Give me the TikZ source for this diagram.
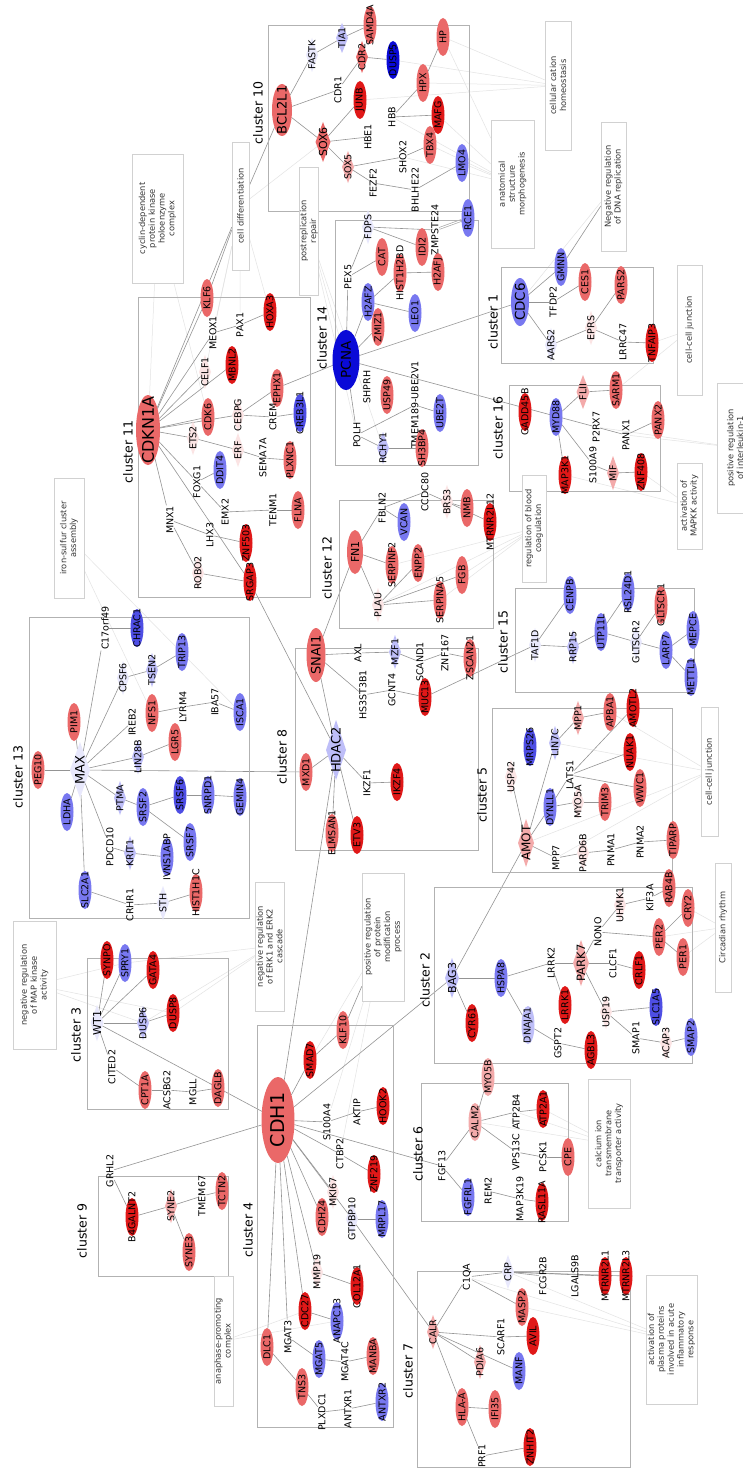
\documentclass[tikz,border=0pt]{standalone}
\usepackage{fontspec}
\setmainfont{DejaVu Sans}
\usetikzlibrary{shapes.geometric}
\pgfdeclarelayer{background}
\pgfsetlayers{background,main}

\definecolor{R3}{RGB}{224,24,24}
\definecolor{R2}{RGB}{234,104,104}
\definecolor{R1}{RGB}{243,170,170}
\definecolor{R0}{RGB}{251,228,228}
\definecolor{B3}{RGB}{10,10,215}
\definecolor{B2m}{RGB}{78,78,228}
\definecolor{B2}{RGB}{120,120,240}
\definecolor{B1}{RGB}{190,190,248}
\definecolor{B0}{RGB}{232,232,252}

\newcommand{\fsz}[1]{\fontsize{#1}{#1}\selectfont}
\newcommand{\genefont}{\fontsize{9.5}{10}\selectfont}
\newcommand{\gofont}{\fontsize{8.3}{9.8}\selectfont}
\newcommand{\clfont}{\fontsize{12.5}{13}\selectfont}
% coloured gene node: shape of fixed size, label may overflow it
\newcommand{\GN}[5][]{\node[#2,#1] (#3) at (#4) {\makebox[0pt]{#5}};}
% plain gene label
\newcommand{\TN}[3]{\node[T] (#1) at (#2) {#3};}

\tikzset{
  E/.style={ellipse, rotate=90, inner sep=0pt, outer sep=0pt,
            minimum width=38pt, minimum height=13pt, fill=#1, font=\genefont},
  D/.style={diamond, rotate=90, inner sep=0pt, outer sep=0pt,
            minimum width=34pt, minimum height=12pt, fill=#1, font=\genefont},
  T/.style={rectangle, rotate=90, inner sep=0.5pt, font=\genefont},
  go/.style={rectangle, rotate=90, draw=black!18, fill=white, align=center,
             font=\gofont, text=black!80, inner sep=0.5pt},
  clab/.style={rotate=90, font=\clfont, inner sep=0pt},
  cbox/.style={draw=black!30, line width=0.8pt},
  ed/.style={draw=black!42, line width=0.6pt},
  fe/.style={draw=black!11, line width=0.5pt},
}

\begin{document}
\begin{tikzpicture}[x=1pt,y=-1pt]
\useasboundingbox (0,0) rectangle (743,1469);
\clip (0,0) rectangle (743,1469);

% ---------- cluster frames ----------
\draw[cbox] (268,25) rectangle (469,211);   % 10
\draw[cbox] (335,220) rectangle (478,465);  % 14
\draw[cbox] (501,267) rectangle (653,363);  % 1
\draw[cbox] (138,297) rectangle (310,597);  % 11
\draw[cbox] (509,385) rectangle (660,491);  % 16
\draw[cbox] (339,500) rectangle (493,628);  % 12
\draw[cbox] (515,588) rectangle (694,692);  % 15
\draw[cbox] (29,617) rectangle (249,918);   % 13
\draw[cbox] (295,648) rectangle (478,850);  % 8
\draw[cbox] (492,708) rectangle (672,872);  % 5
\draw[cbox] (434,887) rectangle (692,1063); % 2
\draw[cbox] (87,958) rectangle (228,1109);  % 3
\draw[cbox] (98,1176) rectangle (228,1276); % 9
\draw[cbox] (257,1025) rectangle (393,1427);% 4
\draw[cbox] (421,1083) rectangle (568,1221);% 6
\draw[cbox] (417,1271) rectangle (630,1467);% 7

% ---------- cluster titles ----------
\node[clab] (t10) at (258,113) {cluster 10};
\node[clab] (t14) at (322,338) {cluster 14};
\node[clab] (t1)  at (493,322) {cluster 1};
\node[clab] (t11) at (128,452) {cluster 11};
\node[clab] (t16) at (498,428) {cluster 16};
\node[clab] (t12) at (327,568) {cluster 12};
\node[clab] (t15) at (503,642) {cluster 15};
\node[clab] (t13) at (18,777)  {cluster 13};
\node[clab] (t8)  at (282,757) {cluster 8};
\node[clab] (t5)  at (482,795) {cluster 5};
\node[clab] (t2)  at (425,980) {cluster 2};
\node[clab] (t3)  at (76,1035) {cluster 3};
\node[clab] (t9)  at (82,1231) {cluster 9};
\node[clab] (t4)  at (248,1230) {cluster 4};
\node[clab] (t6)  at (418,1154) {cluster 6};
\node[clab] (t7)  at (408,1371) {cluster 7};

% ---------- GO term boxes ----------
\node[go, minimum width=129pt, minimum height=51pt] (goCDK) at (157.5,218.5) {cyclin-dependent\\protein kinase\\holoenzyme\\complex};
\node[go, minimum width=128pt, minimum height=17pt] (goDiff) at (240.5,206) {cell differentiation};
\node[go, minimum width=128pt, minimum height=18pt] (goRep) at (309,231) {postreplication\\repair};
\node[go, minimum width=128pt, minimum height=43pt] (goMorph) at (512.5,184) {anatomical\\structure\\morphogenesis};
\node[go, minimum width=129pt, minimum height=26pt] (goCat) at (558,85.5) {cellular cation\\homeostasis};
\node[go, minimum width=129pt, minimum height=25pt] (goDNA) at (613.5,186.5) {Negative regulation\\of DNA replication};
\node[go, minimum width=130pt, minimum height=25pt] (goJunA) at (689.5,330) {cell-cell junction};
\node[go, minimum width=130pt, minimum height=46pt] (goIL) at (740,448) {positive regulation\\of interleukin-1\\secretion};
\node[go, minimum width=86pt, minimum height=25pt] (goMKK) at (689.5,506) {activation of\\MAPKK activity};
\node[go, minimum width=107pt, minimum height=24pt] (goBlood) at (534,528.5) {regulation of blood\\coagulation};
\node[go, minimum width=120pt, minimum height=30pt] (goIron) at (69,538) {iron-sulfur cluster\\assembly};
\node[go, minimum width=128pt, minimum height=43pt] (goMAPK) at (34.5,985) {negative regulation\\of MAP kinase\\activity};
\node[go, minimum width=129pt, minimum height=29pt] (goERK) at (269.5,946.5) {negative regulation\\of ERK1 and ERK2\\cascade};
\node[go, minimum width=128pt, minimum height=42pt] (goProt) at (383,937) {positive regulation\\of protein\\modification\\process};
\node[go, minimum width=129pt, minimum height=17pt] (goJunB) at (709.5,771.5) {cell-cell junction};
\node[go, minimum width=129pt, minimum height=16pt] (goCirc) at (723,927.5) {Circadian rhythm};
\node[go, minimum width=129pt, minimum height=42pt] (goCalc) at (609,1143.5) {calcium ion\\transmembrane\\transporter activity};
\node[go, minimum width=130pt, minimum height=17pt] (goAPC) at (223.5,1341) {anaphase-promoting\\complex};
\node[go, minimum width=129pt, minimum height=51pt] (goPlas) at (671.5,1339.5) {activation of\\plasma proteins\\involved in acute\\inflammatory\\response};

% ---------- cluster 10 ----------
\GN[minimum width=52pt,minimum height=20pt,font=\fsz{13}]{E=R2}{BCL2L1}{282,110}{BCL2L1}
\GN{D=B0}{FASTK}{312,55}{FASTK}
\GN[minimum width=30pt]{D=B1}{TIA1}{342,38}{TIA1}
\GN{E=R2}{SAMD4A}{370,25}{SAMD4A}
\GN[minimum width=32pt]{D=R2}{CDR2}{362,57}{CDR2}
\GN{E=B3}{DUSP5}{393,60}{DUSP5}
\GN{E=R2}{HP}{443,37}{HP}
\TN{CDR1}{338,90}{CDR1}
\GN{E=R3}{JUNB}{360,100}{JUNB}
\GN{E=R2}{HPX}{423,83}{HPX}
\GN[minimum width=40pt,minimum height=15pt,font=\fsz{11}]{D=R2}{SOX6}{323,142}{SOX6}
\TN{HBE1}{368,137}{HBE1}
\TN{HBB}{392,117}{HBB}
\GN{E=R3}{MAFG}{438,115}{MAFG}
\GN[minimum width=32pt]{D=R1}{SOX5}{348,167}{SOX5}
\GN{E=R2}{TBX4}{430,145}{TBX4}
\TN{SHOX2}{403,157}{SHOX2}
\TN{FEZF2}{373,183}{FEZF2}
\TN{BHLHE22}{415,190}{BHLHE22}
\GN{E=B2}{LMO4}{462,163}{LMO4}
\TN{ZMPSTE24}{435,230}{ZMPSTE24}
\GN{E=B2}{RCE1}{468,218}{RCE1}

% ---------- cluster 14 ----------
\GN{D=B0}{FDPS}{368,227}{FDPS}
\TN{PEX5}{348,277}{PEX5}
\GN{E=R2}{CAT}{382,257}{CAT}
\GN{E=R2}{IDI2}{422,247}{IDI2}
\GN{E=R2}{HIST1H2BD}{400,273}{HIST1H2BD}
\GN{E=R2}{H2AFJ}{438,272}{H2AFJ}
\GN{E=B2}{H2AFZ}{368,302}{H2AFZ}
\GN{E=B2}{LEO1}{415,313}{LEO1}
\GN{E=R2}{ZMIZ1}{378,327}{ZMIZ1}
\GN[minimum width=60pt,minimum height=27pt,font=\fsz{13.5}]{E=B3}{PCNA}{346,360}{PCNA}
\TN{SHPRH}{367,387}{SHPRH}
\GN{E=R2}{USP49}{387,395}{USP49}
\TN{TMEM189}{415,405}{TMEM189-UBE2V1}
\GN{E=B2}{UBE2T}{440,413}{UBE2T}
\TN{POLH}{357,435}{POLH}
\GN[minimum width=32pt]{D=B1}{RCHY1}{383,448}{RCHY1}
\GN{E=R2}{SH3BP4}{422,448}{SH3BP4}

% ---------- cluster 1 ----------
\GN[minimum width=48pt,minimum height=18pt,font=\fsz{13.5}]{E=B2}{CDC6}{520,302}{CDC6}
\GN{E=B2}{GMNN}{561,267}{GMNN}
\TN{TFDP2}{553,302}{TFDP2}
\GN{E=R2}{CES1}{585,282}{CES1}
\GN{E=R2}{PARS2}{621,285}{PARS2}
\GN{D=B0}{AARS2}{551,345}{AARS2}
\GN{D=R0}{EPRS}{591,328}{EPRS}
\TN{LRRC47}{623,342}{LRRC47}
\GN{E=R3}{TNFAIP3}{652,343}{TNFAIP3}

% ---------- cluster 11 ----------
\GN[minimum width=70pt,minimum height=24pt,font=\fsz{16}]{E=R2}{CDKN1A}{148,430}{CDKN1A}
\GN{E=R2}{KLF6}{207,298}{KLF6}
\TN{MEOX1}{213,333}{MEOX1}
\TN{PAX1}{240,325}{PAX1}
\GN{E=R3}{HOXA3}{270,312}{HOXA3}
\GN{D=R0}{CELF1}{205,372}{CELF1}
\GN{E=R3}{MBNL2}{232,365}{MBNL2}
\GN{E=R2}{CDK6}{208,417}{CDK6}
\GN{D=R0}{CEBPG}{238,415}{CEBPG}
\GN{E=R2}{EPHX1}{277,388}{EPHX1}
\TN{CREM}{273,417}{CREM}
\GN{E=B2m}{CREB3L1}{300,413}{CREB3L1}
\GN{D=R0}{ETS2}{193,438}{ETS2}
\GN{D=R0}{ERF}{238,450}{ERF}
\GN{E=B2}{DDIT4}{220,470}{DDIT4}
\TN{FOXG1}{197,482}{FOXG1}
\TN{SEMA7A}{263,458}{SEMA7A}
\GN{E=R2}{PLXNC1}{290,460}{PLXNC1}
\TN{EMX2}{225,512}{EMX2}
\TN{TENM1}{273,510}{TENM1}
\GN{E=R2}{FLNA}{298,510}{FLNA}
\TN{MNX1}{170,520}{MNX1}
\TN{LHX3}{210,535}{LHX3}
\GN{E=R3}{ZNF503}{246,543}{ZNF503}
\GN{D=R0}{ROBO2}{198,573}{ROBO2}
\GN{E=R3}{SRGAP3}{250,582}{SRGAP3}

% ---------- cluster 16 ----------
\GN{E=R3}{GADD45B}{525,412}{GADD45B}
\GN{E=B2}{MYD88}{556,417}{MYD88}
\GN[minimum height=13pt]{D=R1}{FLII}{583,392}{FLII}
\GN{E=R2}{SARM1}{616,390}{SARM1}
\TN{P2RX7}{596,427}{P2RX7}
\TN{PANX1}{626,435}{PANX1}
\GN{E=R2}{PANX2}{658,420}{PANX2}
\GN{E=R3}{MAP3K1}{565,475}{MAP3K1}
\TN{S100A9}{593,465}{S100A9}
\GN{D=R1}{MIF}{613,473}{MIF}
\GN{E=R3}{ZNF408}{641,472}{ZNF408}

% ---------- cluster 12 ----------
\GN[minimum width=44pt,minimum height=16pt,font=\fsz{11}]{E=R2}{FN1}{355,552}{FN1}
\TN{FBLN2}{382,508}{FBLN2}
\GN{E=B2}{VCAN}{404,522}{VCAN}
\TN{CCDC80}{425,492}{CCDC80}
\GN{D=R0}{BRS3}{447,502}{BRS3}
\GN{E=R2}{NMB}{467,508}{NMB}
\GN{E=R3}{MTRNR2L12}{490,522}{MTRNR2L12}
\GN{E=R2}{SERPINF2}{392,565}{SERPINF2}
\GN{E=R2}{ENPP2}{418,563}{ENPP2}
\GN{E=R2}{FGB}{462,575}{FGB}
\GN{D=R0}{PLAU}{378,605}{PLAU}
\GN{E=R2}{SERPINA5}{440,600}{SERPINA5}

% ---------- cluster 8 ----------
\GN[minimum width=54pt,minimum height=19pt,font=\fsz{13}]{E=R2}{SNAI1}{316,655}{SNAI1}
\TN{AXL}{358,653}{AXL}
\GN{D=B1}{MZF1}{395,652}{MZF1}
\TN{SCAND1}{420,662}{SCAND1}
\TN{ZNF167}{445,653}{ZNF167}
\GN{E=R2}{ZSCAN21}{470,658}{ZSCAN21}
\TN{HS3ST3B1}{363,695}{HS3ST3B1}
\TN{GCNT4}{392,690}{GCNT4}
\GN{E=R3}{MUC13}{425,697}{MUC13}
\GN[minimum width=60pt,minimum height=20pt,font=\fsz{13}]{D=B1}{HDAC2}{336,750}{HDAC2}
\GN{E=R2}{MXD1}{306,772}{MXD1}
\TN{IKZF1}{367,783}{IKZF1}
\GN{E=R3}{IKZF4}{397,782}{IKZF4}
\GN{E=R2}{ELMSAN1}{332,833}{ELMSAN1}
\GN{E=R3}{ETV3}{357,835}{ETV3}

% ---------- cluster 15 ----------
\GN{D=B0}{TAF1D}{535,645}{TAF1D}
\GN{E=B2}{CENPB}{570,595}{CENPB}
\GN{D=B1}{RRP15}{573,647}{RRP15}
\GN{E=B2}{UTP11L}{601,632}{UTP11L}
\GN{E=B2}{RSL24D1}{628,592}{RSL24D1}
\GN{D=B0}{GLTSCR2}{636,642}{GLTSCR2}
\GN{E=R2}{GLTSCR1}{661,605}{GLTSCR1}
\GN{E=B2}{LARP7}{666,650}{LARP7}
\GN{E=B2}{MEPCE}{693,630}{MEPCE}
\GN{E=B2}{METTL1}{691,677}{METTL1}

% ---------- cluster 13 ----------
\TN{C17orf49}{105,628}{C17orf49}
\GN{E=B2m}{CHRAC1}{137,628}{CHRAC1}
\GN{D=B0}{CPSF6}{123,678}{CPSF6}
\GN{D=B1}{TSEN2}{152,670}{TSEN2}
\GN{E=B2}{TRIP13}{182,652}{TRIP13}
\TN{IREB2}{132,722}{IREB2}
\GN{E=R2}{NFS1}{152,713}{NFS1}
\TN{LYRM4}{183,707}{LYRM4}
\TN{IBA57}{215,702}{IBA57}
\GN{E=B2}{ISCA1}{240,712}{ISCA1}
\GN{E=R2}{PIM1}{74,722}{PIM1}
\GN{E=R2}{LGR5}{175,742}{LGR5}
\GN{D=B1}{LIN28B}{138,757}{LIN28B}
\GN{E=R2}{PEG10}{38,770}{PEG10}
\GN[minimum width=56pt,minimum height=20pt,font=\fsz{13}]{D=B0}{MAX}{80,770}{MAX}
\GN{E=B2}{LDHA}{67,812}{LDHA}
\GN{D=B1}{PTMA}{120,798}{PTMA}
\GN{E=B2}{SRSF2}{143,807}{SRSF2}
\GN{E=B2m}{SRSF6}{180,795}{SRSF6}
\GN{E=B2}{SNRPD1}{208,795}{SNRPD1}
\GN{E=B2}{GEMIN4}{240,797}{GEMIN4}
\TN{PDCD10}{110,847}{PDCD10}
\GN{D=B1}{KRIT1}{130,853}{KRIT1}
\GN{E=B2}{IVNS1ABP}{167,857}{IVNS1ABP}
\GN{E=B2}{SRSF7}{190,842}{SRSF7}
\GN{E=B2}{SLC2A1}{85,890}{SLC2A1}
\TN{CRHR1}{130,905}{CRHR1}
\GN{D=B0}{STH}{163,903}{STH}
\GN{E=R2}{HIST1H1C}{196,893}{HIST1H1C}

% ---------- cluster 5 ----------
\GN{D=R1}{MPP1}{578,718}{MPP1}
\GN{E=R2}{APBA1}{610,712}{APBA1}
\GN{E=R3}{AMOTL2}{633,708}{AMOTL2}
\GN{D=R0}{USP42}{511,777}{USP42}
\GN{E=B2m}{MRPS26}{530,747}{MRPS26}
\GN{D=B1}{LIN7C}{555,743}{LIN7C}
\TN{LATS1}{570,775}{LATS1}
\GN{E=R3}{NUAK1}{630,752}{NUAK1}
\GN{E=R2}{WWC1}{640,788}{WWC1}
\GN{E=B2}{DYNLL1}{550,807}{DYNLL1}
\GN{D=R0}{MYO5A}{578,802}{MYO5A}
\GN{E=R2}{TRIM3}{605,802}{TRIM3}
\GN[minimum width=48pt,minimum height=16pt,font=\fsz{12}]{D=R1}{AMOT}{526,843}{AMOT}
\TN{MPP7}{556,858}{MPP7}
\GN{D=R0}{PARD6B}{583,853}{PARD6B}
\TN{PNMA1}{611,850}{PNMA1}
\TN{PNMA2}{640,842}{PNMA2}
\GN{E=R2}{TIPARP}{673,840}{TIPARP}

% ---------- cluster 2 ----------
\GN[minimum width=40pt,minimum height=14pt,font=\fsz{11}]{D=B1}{BAG3}{452,978}{BAG3}
\GN{E=R3}{CYR61}{472,1023}{CYR61}
\GN{E=B2}{HSPA8}{501,978}{HSPA8}
\TN{LRRK2}{551,963}{LRRK2}
\GN[minimum width=46pt,minimum height=16pt,font=\fsz{11.5}]{D=R1}{PARK7}{581,963}{PARK7}
\TN{NONO}{598,932}{NONO}
\GN{D=R0}{UHMK1}{620,905}{UHMK1}
\TN{KIF3A}{650,898}{KIF3A}
\GN{E=R2}{RAB4B}{669,888}{RAB4B}
\GN{E=R2}{CRY2}{688,908}{CRY2}
\GN{E=R2}{PER2}{659,937}{PER2}
\GN{E=R2}{PER1}{683,957}{PER1}
\TN{CLCF1}{613,963}{CLCF1}
\GN{E=R3}{CRLF1}{639,970}{CRLF1}
\GN{E=B1}{DNAJA1}{528,1025}{DNAJA1}
\GN{E=R3}{LRRK1}{565,1005}{LRRK1}
\GN{D=R0}{USP19}{606,1012}{USP19}
\GN{E=B2m}{SLC1A5}{656,1007}{SLC1A5}
\TN{GSPT2}{558,1043}{GSPT2}
\GN{E=R3}{AGBL3}{591,1050}{AGBL3}
\TN{SMAP1}{636,1038}{SMAP1}
\GN{D=R0}{ACAP3}{666,1043}{ACAP3}
\GN{E=B2}{SMAP2}{691,1037}{SMAP2}

% ---------- cluster 3 ----------
\GN[minimum width=36pt,minimum height=13pt,font=\fsz{11}]{D=B0}{WT1}{97,1023}{WT1}
\GN{E=R3}{SYNPO}{107,960}{SYNPO}
\GN{E=B2}{SPRY1}{125,963}{SPRY1}
\GN{E=R3}{GATA4}{153,970}{GATA4}
\GN{D=B1}{DUSP6}{143,1023}{DUSP6}
\GN{E=R3}{DUSP8}{173,1013}{DUSP8}
\TN{CITED2}{112,1067}{CITED2}
\GN{E=R2}{CPT1A}{145,1090}{CPT1A}
\TN{ACSBG2}{167,1090}{ACSBG2}
\TN{MGLL}{193,1092}{MGLL}
\GN{E=R2}{DAGLB}{218,1088}{DAGLB}

% ---------- cluster 9 ----------
\TN{GRHL2}{110,1171}{GRHL2}
\GN{E=R3}{B4GALNT2}{132,1217}{B4GALNT2}
\GN{D=R1}{SYNE2}{171,1206}{SYNE2}
\TN{TMEM67}{202,1196}{TMEM67}
\GN{E=R2}{TCTN2}{222,1191}{TCTN2}
\GN{E=R2}{SYNE3}{189,1252}{SYNE3}

% ---------- cluster 4 ----------
\GN[minimum width=86pt,minimum height=33pt,font=\fsz{19}]{E=R2}{CDH1}{278,1120}{CDH1}
\GN{E=R3}{SMAD7}{310,1060}{SMAD7}
\GN{E=R2}{KLF10}{343,1030}{KLF10}
\TN{S100A4}{327,1122}{S100A4}
\TN{AKTIP}{357,1112}{AKTIP}
\GN{E=R3}{HOOK2}{383,1106}{HOOK2}
\TN{CTBP2}{340,1154}{CTBP2}
\GN{E=R3}{ZNF219}{374,1174}{ZNF219}
\GN{D=R0}{MKI67}{333,1192}{MKI67}
\GN{D=B0}{GTPBP10}{352,1219}{GTPBP10}
\GN{E=B2}{MRPL17}{382,1219}{MRPL17}
\GN{E=R2}{CDH24}{322,1217}{CDH24}
\GN{D=R0}{MMP19}{317,1272}{MMP19}
\GN{E=R3}{COL12A1}{357,1286}{COL12A1}
\GN{E=R3}{CDC27}{305,1311}{CDC27}
\GN{E=B2}{ANAPC13}{337,1321}{ANAPC13}
\TN{MGAT3}{288,1337}{MGAT3}
\GN{E=R2}{DLC1}{267,1347}{DLC1}
\GN{E=B2}{MGAT5}{319,1359}{MGAT5}
\TN{MGAT4C}{345,1362}{MGAT4C}
\GN{E=R2}{MANBA}{373,1356}{MANBA}
\GN{E=R2}{TNS3}{302,1387}{TNS3}
\TN{PLXDC1}{322,1412}{PLXDC1}
\TN{ANTXR1}{348,1409}{ANTXR1}
\GN{E=B2}{ANTXR2}{382,1402}{ANTXR2}

% ---------- cluster 6 ----------
\TN{FGF13}{442,1166}{FGF13}
\GN{E=B2}{FGFRL1}{468,1197}{FGFRL1}
\TN{REM2}{488,1191}{REM2}
\GN{E=R1}{CALM2}{475,1122}{CALM2}
\GN{E=R1}{MYO5B}{488,1077}{MYO5B}
\TN{ATP2B4}{516,1112}{ATP2B4}
\GN{E=R3}{ATP2A1}{543,1109}{ATP2A1}
\TN{VPS13C}{516,1152}{VPS13C}
\TN{PCSK1}{543,1157}{PCSK1}
\GN{E=R2}{CPE}{568,1157}{CPE}
\TN{MAP3K19}{520,1199}{MAP3K19}
\GN{E=R3}{RASL11A}{542,1202}{RASL11A}

% ---------- cluster 7 ----------
\GN{D=R1}{CALR}{433,1332}{CALR}
\TN{C1QA}{467,1277}{C1QA}
\GN{D=B0}{CRP}{508,1272}{CRP}
\TN{FCGR2B}{543,1276}{FCGR2B}
\TN{LGALS9B}{575,1276}{LGALS9B}
\GN{E=R3}{MTRNR2L1}{605,1276}{MTRNR2L1}
\GN{E=R3}{MTRNR2L3}{626,1276}{MTRNR2L3}
\GN{E=R2}{MASP2}{522,1307}{MASP2}
\TN{SCARF1}{501,1337}{SCARF1}
\GN{E=R3}{AVIL}{533,1336}{AVIL}
\GN{D=R1}{PDIA6}{480,1362}{PDIA6}
\GN{E=B2}{MANF}{519,1371}{MANF}
\GN{E=R2}{HLAA}{462,1407}{HLA-A}
\GN{E=R2}{IFI35}{495,1409}{IFI35}
\TN{PRF1}{482,1456}{PRF1}
\GN{E=R3}{ZNHIT2}{530,1447}{ZNHIT2}

% ---------- connectors ----------
\begin{pgfonlayer}{background}
\fill[white] (0,0) rectangle (743,1469);
% faint links to GO terms
\foreach \a/\b in {goCDK/CDKN1A, goCDK/CDK6, goDiff/MEOX1, goDiff/PAX1, goDiff/HOXA3,
  goDiff/CELF1, goDiff/SOX6, goRep/PCNA, goRep/RCHY1, goRep/POLH,
  goMorph/HP, goMorph/TBX4, goMorph/LMO4, goMorph/SHOX2, goMorph/HBB, goMorph/MAFG,
  goCat/HP, goCat/HPX, goCat/JUNB, goCat/DUSP5, goDNA/CDC6,
  goJunA/SARM1, goJunA/TNFAIP3, goIL/PANX1, goIL/P2RX7, goMKK/MAP3K1, goMKK/ZNF408,
  goBlood/FGB, goBlood/SERPINA5, goBlood/SERPINF2, goBlood/PLAU,
  goIron/ISCA1, goIron/NFS1, goMAPK/SPRY1, goMAPK/DUSP6, goMAPK/DUSP8,
  goERK/SPRY1, goERK/DUSP6, goERK/DUSP8, goProt/SMAD7, goProt/S100A4, goProt/CTBP2,
  goJunB/AMOT, goJunB/LIN7C, goJunB/APBA1, goJunB/MPP7, goCirc/CRY2, goCirc/PER1, goCirc/PER2,
  goCalc/ATP2A1, goCalc/ATP2B4, goCalc/CALM2, goAPC/CDC27, goAPC/ANAPC13,
  goPlas/MASP2, goPlas/CRP, goPlas/C1QA}
  \draw[fe] (\a) -- (\b);
% gene interactions
\foreach \a/\b in {
  BCL2L1/FASTK, FASTK/TIA1, TIA1/SAMD4A, BCL2L1/CDR1, CDR1/CDR2, CDR2/DUSP5,
  BCL2L1/SOX6, SOX6/JUNB, SOX6/HBE1, HBB/MAFG, HBB/HPX, HPX/HP, SOX6/SOX5,
  SOX5/SHOX2, SHOX2/TBX4, SOX5/FEZF2, FEZF2/BHLHE22, BHLHE22/LMO4, FDPS/ZMPSTE24,
  BCL2L1/goDiff, goDiff/CDKN1A, goDiff/KLF6, goProt/KLF10, GMNN/goDNA,
  FDPS/IDI2, FDPS/PEX5, PEX5/CAT, PEX5/PCNA, HIST1H2BD/H2AFJ, HIST1H2BD/H2AFZ,
  H2AFZ/LEO1, H2AFZ/PCNA, PCNA/ZMIZ1, PCNA/POLH, POLH/RCHY1, POLH/TMEM189,
  TMEM189/UBE2T, RCHY1/SH3BP4, PCNA/CDC6, PCNA/P2RX7, EPHX1/PCNA,
  CDC6/GMNN, CDC6/TFDP2, TFDP2/CES1, CDC6/AARS2, AARS2/EPRS, EPRS/PARS2,
  EPRS/LRRC47, LRRC47/TNFAIP3,
  CDKN1A/KLF6, CDKN1A/MEOX1, MEOX1/PAX1, PAX1/HOXA3, CDKN1A/CELF1, CDKN1A/MBNL2,
  CDKN1A/CDK6, CDKN1A/CEBPG, CEBPG/EPHX1, CEBPG/CREM, CREM/CREB3L1, CDKN1A/ETS2,
  ETS2/ERF, ERF/SEMA7A, SEMA7A/PLXNC1, CDKN1A/FOXG1, FOXG1/DDIT4, FOXG1/EMX2,
  EMX2/TENM1, TENM1/FLNA, CDKN1A/MNX1, MNX1/LHX3, LHX3/ZNF503, MNX1/ROBO2,
  ROBO2/SRGAP3, CDKN1A/SRGAP3, SRGAP3/HDAC2,
  MYD88/FLII, FLII/SARM1, MYD88/MAP3K1, MYD88/S100A9, S100A9/MIF, MIF/ZNF408,
  P2RX7/PANX1, PANX1/PANX2,
  FN1/FBLN2, FBLN2/VCAN, FBLN2/CCDC80, CCDC80/BRS3, BRS3/NMB, BRS3/MTRNR2L12,
  FN1/SERPINF2, FN1/PLAU, PLAU/ENPP2, PLAU/FGB, PLAU/SERPINA5, SNAI1/FN1,
  SNAI1/AXL, AXL/MZF1, MZF1/SCAND1, SCAND1/ZNF167, ZNF167/ZSCAN21, SNAI1/HS3ST3B1,
  HS3ST3B1/GCNT4, GCNT4/MUC13, MUC13/TAF1D, SNAI1/HDAC2, HDAC2/MXD1, HDAC2/IKZF1,
  IKZF1/IKZF4, HDAC2/ELMSAN1, HDAC2/ETV3, HDAC2/CDH1, MAX/MXD1,
  TAF1D/CENPB, TAF1D/RRP15, RRP15/UTP11L, UTP11L/RSL24D1, UTP11L/GLTSCR2,
  GLTSCR2/GLTSCR1, GLTSCR2/LARP7, LARP7/MEPCE, LARP7/METTL1,
  MAX/PEG10, MAX/PIM1, MAX/C17orf49, C17orf49/CHRAC1, MAX/CPSF6, CPSF6/TSEN2,
  TSEN2/TRIP13, MAX/IREB2, NFS1/LYRM4, LYRM4/IBA57, IBA57/ISCA1, MAX/LIN28B,
  LIN28B/LGR5, MAX/LDHA, MAX/PTMA, PTMA/SRSF2, SRSF2/SRSF6, SRSF6/SNRPD1,
  SNRPD1/GEMIN4, SRSF2/SRSF7, MAX/PDCD10, PDCD10/KRIT1, KRIT1/IVNS1ABP,
  MAX/SLC2A1, SLC2A1/CRHR1, CRHR1/STH, STH/HIST1H1C,
  AMOT/USP42, AMOT/LIN7C, LIN7C/MPP1, MPP1/APBA1, LATS1/AMOTL2, LATS1/NUAK1,
  LATS1/WWC1, AMOT/DYNLL1, DYNLL1/LATS1, DYNLL1/MYO5A, MYO5A/TRIM3, AMOT/MPP7,
  MPP7/PARD6B, PARD6B/PNMA1, PNMA1/PNMA2, PNMA2/TIPARP, AMOT/BAG3,
  BAG3/HSPA8, BAG3/CYR61, BAG3/CDH1, HSPA8/LRRK2, LRRK2/PARK7, LRRK2/LRRK1,
  HSPA8/DNAJA1, DNAJA1/GSPT2, GSPT2/AGBL3, PARK7/NONO, NONO/UHMK1, UHMK1/KIF3A,
  KIF3A/RAB4B, NONO/PER2, PER2/CRY2, PER2/PER1, PARK7/CLCF1, CLCF1/CRLF1,
  PARK7/USP19, USP19/SLC1A5, USP19/SMAP1, SMAP1/ACAP3, ACAP3/SMAP2,
  WT1/SYNPO, WT1/SPRY1, WT1/GATA4, WT1/DUSP6, DUSP6/DUSP8, WT1/CITED2,
  CITED2/CPT1A, CPT1A/ACSBG2, ACSBG2/MGLL, MGLL/DAGLB, WT1/CDH1,
  GRHL2/B4GALNT2, B4GALNT2/SYNE2, SYNE2/TMEM67, TMEM67/TCTN2, SYNE2/SYNE3, GRHL2/CDH1,
  CDH1/SMAD7, SMAD7/KLF10, CDH1/S100A4, S100A4/AKTIP, AKTIP/HOOK2, CDH1/CTBP2,
  CTBP2/ZNF219, CDH1/MKI67, CDH1/GTPBP10, GTPBP10/MRPL17, GTPBP10/CALR,
  CDH1/CDH24, CDH1/MMP19, MMP19/COL12A1, CDH1/CDC27, CDC27/ANAPC13, CDH1/MGAT3,
  MGAT3/MGAT5, MGAT5/MGAT4C, MGAT4C/MANBA, CDH1/DLC1, DLC1/TNS3, TNS3/PLXDC1,
  PLXDC1/ANTXR1, ANTXR1/ANTXR2, CDH1/FGF13,
  FGF13/CALM2, FGF13/FGFRL1, REM2/MAP3K19, MAP3K19/RASL11A, CALM2/MYO5B,
  CALM2/ATP2B4, ATP2B4/ATP2A1, CALM2/VPS13C, VPS13C/PCSK1, PCSK1/CPE,
  CALR/C1QA, C1QA/CRP, CRP/FCGR2B, CRP/MTRNR2L1, CRP/MTRNR2L3, C1QA/MASP2,
  CALR/SCARF1, SCARF1/AVIL, CALR/PDIA6, CALR/MANF, CALR/HLAA, HLAA/PRF1,
  HLAA/IFI35, PRF1/ZNHIT2}
  \draw[ed] (\a) -- (\b);
\draw[draw=black!38, line width=0.6pt, double=white, double distance=1.2pt] (ZMPSTE24) -- (RCE1);
\end{pgfonlayer}
\end{tikzpicture}
\end{document}
